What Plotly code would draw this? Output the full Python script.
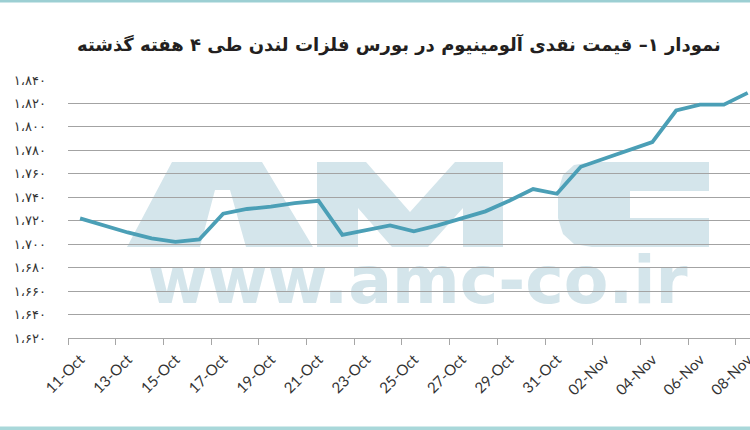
import datetime as dt
import plotly.graph_objects as go

# ---------------- data ----------------
dates = [
    "2019-10-11", "2019-10-12", "2019-10-13", "2019-10-14", "2019-10-15",
    "2019-10-16", "2019-10-17", "2019-10-18", "2019-10-19", "2019-10-20",
    "2019-10-21", "2019-10-22", "2019-10-23", "2019-10-24", "2019-10-25",
    "2019-10-26", "2019-10-27", "2019-10-28", "2019-10-29", "2019-10-30",
    "2019-10-31", "2019-11-01", "2019-11-02", "2019-11-03", "2019-11-04",
    "2019-11-05", "2019-11-06", "2019-11-07", "2019-11-08",
]
prices = [
    1722, 1716, 1710, 1705, 1702,
    1704, 1726, 1730, 1732, 1735,
    1737, 1708, 1712, 1716, 1711,
    1716, 1722, 1728, 1737, 1747,
    1743, 1766, 1773, 1780, 1787,
    1814, 1819, 1819, 1829,
]
x_tick_labels = ["11-Oct", "13-Oct", "15-Oct", "17-Oct", "19-Oct", "21-Oct",
                 "23-Oct", "25-Oct", "27-Oct", "29-Oct", "31-Oct", "02-Nov",
                 "04-Nov", "06-Nov", "08-Nov"]
y_tick_values = [1620, 1640, 1660, 1680, 1700, 1720, 1740, 1760, 1780, 1800, 1820, 1840]
y_tick_labels = ["۱،۶۲۰", "۱،۶۴۰", "۱،۶۶۰", "۱،۶۸۰", "۱،۷۰۰", "۱،۷۲۰",
                 "۱،۷۴۰", "۱،۷۶۰", "۱،۷۸۰", "۱،۸۰۰", "۱،۸۲۰", "۱،۸۴۰"]
title_text = "نمودار ۱– قیمت نقدی آلومینیوم در بورس فلزات لندن طی ۴ هفته گذشته"
watermark_small = "www.amc-co.ir"

# ticks sit on category boundaries (half a day before every second date)
half_day = dt.timedelta(hours=12)
x_tick_positions = [
    (dt.datetime.fromisoformat(d) - half_day).isoformat(sep=" ")
    for d in dates[::2]
]

# ---------------- layout geometry ----------------
W, H = 750, 430
L, R, T, B = 68, 0, 80, 92
pw, ph = W - L - R, H - T - B
day_px = 23.85


def px(x):
    return (x - L) / pw


def py(y):
    return (H - B - y) / ph


def poly(pts):
    return "M " + " L ".join(f"{px(x):.5f},{py(y):.5f}" for x, y in pts) + " Z"


wm_color = "#d4e5eb"
letter_A = [(127, 247), (172, 162), (262, 162), (313, 247), (246, 247),
            (230, 190), (215, 190), (200, 247)]
letter_M = [(317, 247), (317, 162), (366, 162), (410, 212), (455, 162),
            (503, 162), (503, 247), (463, 247), (463, 208), (428, 247),
            (392, 247), (358, 208), (358, 247)]
letter_C = [(592, 162), (709, 162), (709, 191), (630, 191), (630, 218),
            (709, 218), (709, 247), (592, 247), (574, 244), (563, 234),
            (558, 218), (558, 191), (563, 175), (574, 165)]

shapes = []
for pts in (letter_A, letter_M, letter_C):
    shapes.append(dict(type="path", xref="paper", yref="paper", path=poly(pts),
                       fillcolor=wm_color, line=dict(width=0), layer="below"))

shapes.append(dict(type="rect", xref="paper", yref="paper",
                   x0=px(115), x1=px(720), y0=py(296), y1=py(254),
                   line=dict(width=0), fillcolor="rgba(0,0,0,0)", layer="below",
                   label=dict(text="<b>" + watermark_small + "</b>",
                              textposition="middle center",
                              font=dict(family="DejaVu Sans", size=65, color=wm_color))))

# top & bottom border bands
shapes.append(dict(type="rect", xref="paper", yref="paper",
                   x0=px(0), x1=px(W), y0=py(2.5), y1=py(0),
                   line=dict(width=0), fillcolor="#9ccfd3", layer="above"))
shapes.append(dict(type="rect", xref="paper", yref="paper",
                   x0=px(0), x1=px(W), y0=py(430), y1=py(426.5),
                   line=dict(width=0), fillcolor="#a9d8da", layer="above"))

fig = go.Figure()
fig.add_trace(go.Scatter(
    x=dates, y=prices, mode="lines",
    line=dict(color="#4b9fb6", width=3.8),
    hoverinfo="x+y", showlegend=False,
))

fig.update_layout(
    width=W, height=H,
    margin=dict(l=L, r=R, t=T, b=B, autoexpand=False),
    paper_bgcolor="white",
    plot_bgcolor="rgba(0,0,0,0)",
    shapes=shapes,
    annotations=[dict(
        text="<b>" + title_text + "</b>",
        xref="paper", yref="paper", x=px(399), y=py(45),
        xanchor="center", yanchor="middle", showarrow=False,
        font=dict(family="DejaVu Sans", size=18, color="#231f20"),
    )],
)

fig.update_xaxes(
    type="date",
    range=["2019-10-10 11:50", "2019-11-08 02:20"],
    tickmode="array", tickvals=x_tick_positions, ticktext=x_tick_labels,
    ticks="outside", ticklen=6, tickcolor="#a6a6a6", tickwidth=1,
    tickangle=-45, ticklabelshift=round(day_px / 2), ticklabelstandoff=0,
    ticklabeloverflow="allow",
    tickfont=dict(family="Lato", size=15, color="#333333"),
    showgrid=False,
    showline=True, linecolor="#a6a6a6", linewidth=1,
    automargin=False, fixedrange=True,
)
fig.update_yaxes(
    range=[1620, 1840],
    tickmode="array", tickvals=y_tick_values, ticktext=y_tick_labels,
    ticks="", ticklabelstandoff=21,
    tickfont=dict(family="DejaVu Sans", size=13, color="#333333"),
    showgrid=True, gridcolor="#a3a3a3", gridwidth=1,
    zeroline=False, showline=False,
    automargin=False, fixedrange=True,
)

fig.write_html("out.html", config={"displayModeBar": False},
               post_script="document.body.style.margin='0';")
